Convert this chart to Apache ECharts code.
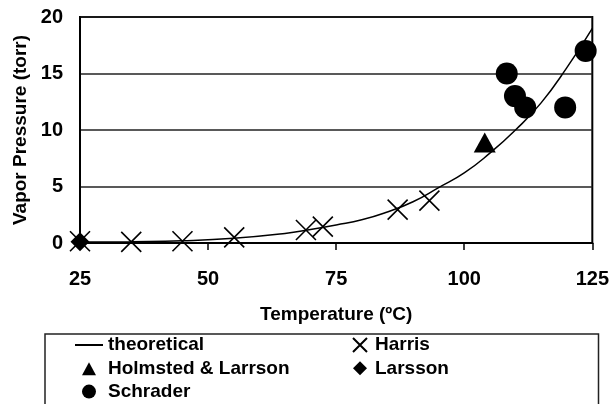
<!DOCTYPE html>
<html><head><meta charset="utf-8">
<script src="https://cdn.jsdelivr.net/npm/echarts@6/dist/echarts.min.js"></script>
<style>html,body{margin:0;padding:0;background:#fff}#c{width:612px;height:404px}</style>
</head><body><div id="c"></div>
<script>
const curveTemps = [25, 35, 45, 55, 65, 70, 75, 80, 85, 90, 95, 100, 105, 110, 115, 120, 125];
const curveVals  = [0.08, 0.12, 0.2, 0.42, 0.85, 1.2, 1.6, 2.05, 2.75, 3.65, 4.9, 6.2, 7.95, 10.0, 12.4, 15.5, 19.0];
const harrisT = [25, 35, 45, 55.1, 69.1, 72.4, 87.0, 93.2];
const harrisP = [0.15, 0.1, 0.15, 0.5, 1.15, 1.45, 2.95, 3.75];
const holmstedT = [104.0];
const holmstedP = [8.9];
const larssonT = [25];
const larssonP = [0.1];
const schraderT = [108.3, 109.9, 111.9, 119.7, 123.7];
const schraderP = [15.0, 13.0, 12.0, 12.0, 17.0];
const xTicks = [25, 50, 75, 100, 125];
const yTicks = [0, 5, 10, 15, 20];

const zip = (a, b) => a.map((v, i) => [v, b[i]]);
const font = '"Liberation Sans", Arial, sans-serif';
const legendText = {fontFamily: font, fontWeight: 'bold', fontSize: 19, color: '#000'};
const chart = echarts.init(document.getElementById('c'), null, {renderer: 'canvas'});
chart.setOption({
  animation: false,
  backgroundColor: '#fff',
  grid: {left: 80, right: 19, top: 17, bottom: 161, show: true, borderColor: '#000', borderWidth: 2, backgroundColor: 'transparent'},
  xAxis: {
    type: 'value', min: xTicks[0], max: xTicks[xTicks.length - 1], interval: 25,
    name: 'Temperature (ºC)', nameLocation: 'middle', nameGap: 62,
    nameTextStyle: {fontFamily: font, fontWeight: 'bold', fontSize: 19, color: '#000'},
    axisLine: {lineStyle: {color: '#000', width: 2}},
    axisTick: {show: true, length: 7, lineStyle: {color: '#000', width: 1.5}},
    axisLabel: {margin: 26, fontFamily: font, fontWeight: 'bold', fontSize: 20, color: '#000'},
    splitLine: {show: false}
  },
  yAxis: {
    type: 'value', min: yTicks[0], max: yTicks[yTicks.length - 1], interval: 5,
    name: 'Vapor Pressure (torr)', nameLocation: 'middle', nameGap: 48, nameRotate: 90,
    nameTextStyle: {fontFamily: font, fontWeight: 'bold', fontSize: 19, color: '#000'},
    axisLine: {show: true, lineStyle: {color: '#000', width: 2}},
    axisTick: {show: false},
    axisLabel: {margin: 17, fontFamily: font, fontWeight: 'bold', fontSize: 20, color: '#000'},
    splitLine: {show: true, lineStyle: {color: '#222', width: 1.5}}
  },
  legend: [
    {data: [
       {name: 'theoretical', icon: 'path://M0,0L28,0L28,2L0,2Z'},
       {name: 'Holmsted & Larrson', icon: 'path://M0,0M28,14M7,14L14,1L21,14Z'},
       {name: 'Schrader', icon: 'circle'}],
     orient: 'vertical', left: 70, top: 330.5, height: 90, itemWidth: 28, itemHeight: 14, itemGap: 4.3,
     textStyle: legendText},
    {data: [
       {name: 'Harris'},
       {name: 'Larsson', icon: 'path://M0,0M20,14M10,0L17,7L10,14L3,7Z'}],
     orient: 'vertical', left: 345, top: 330.5, height: 90, itemWidth: 20, itemHeight: 14, itemGap: 4.3,
     textStyle: legendText}
  ],
  graphic: [{type: 'rect', left: 42.5, top: 331.5, shape: {width: 553.5, height: 90}, style: {fill: 'none', stroke: '#222', lineWidth: 1.5}, z: 0}],
  series: [
    {name: 'theoretical', type: 'line', smooth: true, symbol: 'none', data: zip(curveTemps, curveVals),
     lineStyle: {color: '#000', width: 1.5}, itemStyle: {color: '#000', opacity: 1}, z: 3},
    {name: 'Harris', type: 'scatter', clip: false, symbol: 'path://M0,0L20,20M20,0L0,20', symbolSize: 20,
     itemStyle: {color: 'rgba(0,0,0,0)', borderColor: '#000', borderWidth: 1.6, opacity: 1}, data: zip(harrisT, harrisP), z: 4},
    {name: 'Holmsted & Larrson', type: 'scatter', clip: false, symbol: 'triangle', symbolSize: [22, 20],
     itemStyle: {color: '#000', opacity: 1}, data: zip(holmstedT, holmstedP), z: 4},
    {name: 'Larsson', type: 'scatter', clip: false, symbol: 'diamond', symbolSize: 19,
     itemStyle: {color: '#000', opacity: 1}, data: zip(larssonT, larssonP), z: 5},
    {name: 'Schrader', type: 'scatter', clip: false, symbol: 'circle', symbolSize: 22,
     itemStyle: {color: '#000', opacity: 1}, data: zip(schraderT, schraderP), z: 4}
  ]
});
</script></body></html>
